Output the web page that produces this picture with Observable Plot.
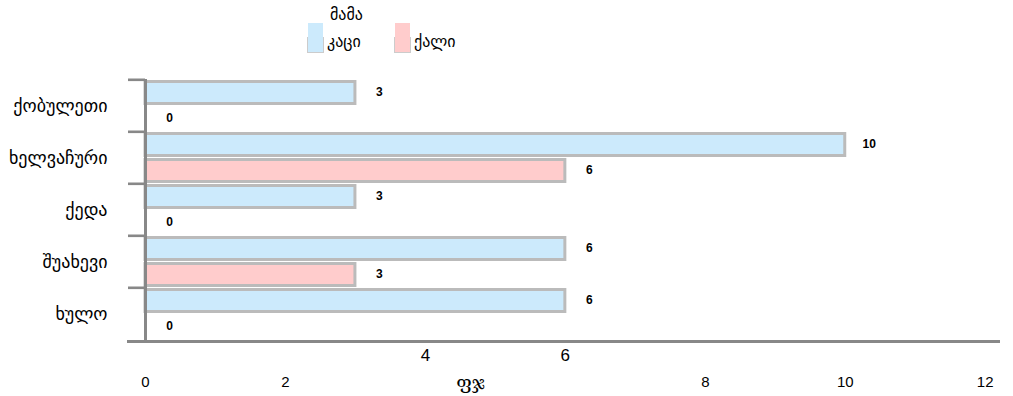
<!DOCTYPE html>
<html>
<head>
<meta charset="utf-8">
<script src="https://cdn.jsdelivr.net/npm/d3@7"></script>
<script src="https://cdn.jsdelivr.net/npm/@observablehq/plot@0.6"></script>
<style>
  body { margin: 0; background: #fff; }
  #wrap { position: relative; width: 1013px; height: 396px; }
  #legend { position: absolute; left: 0; top: 0; width: 1013px; height: 60px; font-family: "DejaVu Sans", sans-serif; font-size: 16px; color: #000; }
  .lt { position: absolute; left: 330px; top: 5px; }
  .sw { position: absolute; top: 23px; width: 15px; height: 30px; }
  .sw .box { position: absolute; left: -1px; top: 14px; width: 15px; height: 15px; border: 1px solid #ccc; border-top: none; }
  .ll { position: absolute; top: 32px; }
  #chart { position: absolute; left: 0; top: 0; }
</style>
</head>
<body>
<div id="wrap">
  <div id="chart"></div>
  <div id="legend"></div>
</div>
<script>
const categories = ["ქობულეთი", "ხელვაჩური", "ქედა", "შუახევი", "ხულო"];
const maleValues = [3, 10, 3, 6, 6];
const femaleValues = [0, 6, 0, 3, 0];
const seriesNames = ["კაცი", "ქალი"];
const seriesColors = ["#cceafc", "#ffcccc"];
const legendTitle = "მამა";
const xTitle = "ფჯ";
const xTicksLow = [0, 2, 8, 10, 12];
const xTicksHigh = [4, 6];
const xDomain = [-0.243, 12.19];

const rows = categories.flatMap((c, i) => [
  {cat: c, sex: seriesNames[0], v: maleValues[i]},
  {cat: c, sex: seriesNames[1], v: femaleValues[i]}
]);
const maleRows = rows.filter(d => d.sex === seriesNames[0]);
const femaleRows = rows.filter(d => d.sex === seriesNames[1]);

const W = 1013, H = 396, mTop = 79, mBottom = 55, mLeft = 128, mRight = 15;
const step = (H - mTop - mBottom) / categories.length;

const chart = Plot.plot({
  width: W,
  height: H,
  marginTop: mTop,
  marginBottom: mBottom,
  marginLeft: mLeft,
  marginRight: mRight,
  style: {fontFamily: "DejaVu Sans, sans-serif", background: "#fff", color: "#000"},
  x: {domain: xDomain},
  y: {domain: categories, padding: 0},
  marks: [
    Plot.barX(maleRows.filter(d => d.v > 0), {y: "cat", x: "v", fill: seriesColors[0], stroke: "#bbbbbb", strokeWidth: 3, insetTop: 1.5, insetBottom: step / 2 + 2.3}),
    Plot.barX(femaleRows.filter(d => d.v > 0), {y: "cat", x: "v", fill: seriesColors[1], stroke: "#bbbbbb", strokeWidth: 3, insetTop: step / 2 + 1.3, insetBottom: 2.5}),
    Plot.barX(categories, {y: d => d, x1: xDomain[0], x2: 0, fill: "#888888", insetBottom: step - 3, dy: -1.5}),
    Plot.ruleX([0], {stroke: "#888888", strokeWidth: 3}),
    Plot.frame({anchor: "bottom", stroke: "#888888", strokeWidth: 3}),
    Plot.text(maleRows, {y: "cat", x: "v", text: d => String(d.v), dx: 24, dy: -14, fontWeight: "bold", fontSize: 12, fontFamily: "Liberation Sans, Arial, sans-serif"}),
    Plot.text(femaleRows, {y: "cat", x: "v", text: d => String(d.v), dx: 24, dy: 12, fontWeight: "bold", fontSize: 12, fontFamily: "Liberation Sans, Arial, sans-serif"}),
    Plot.axisY({tickSize: 0, tickPadding: 21, fontSize: 18, label: null}),
    Plot.axisX(xTicksLow, {tickSize: 0, tickPadding: 35, fontSize: 15, fontFamily: "Liberation Sans, Arial, sans-serif", label: null}),
    Plot.axisX(xTicksHigh, {tickSize: 0, tickPadding: 7, fontSize: 17, fontFamily: "Liberation Sans, Arial, sans-serif", label: null}),
    Plot.text([xTitle], {frameAnchor: "bottom", dx: -93, dy: 41, lineAnchor: "middle", fontSize: 19, fontFamily: "DejaVu Serif, serif"})
  ]
});
document.getElementById("chart").appendChild(chart);

const legend = document.getElementById("legend");
legend.innerHTML = `<div class="lt">${legendTitle}</div>` +
  seriesNames.map((s, i) => {
    const x = [308, 395][i];
    return `<div class="sw" style="left:${x}px;background:${seriesColors[i]}"><div class="box"></div></div>` +
           `<div class="ll" style="left:${x + 19}px">${s}</div>`;
  }).join("");
</script>
</body>
</html>
